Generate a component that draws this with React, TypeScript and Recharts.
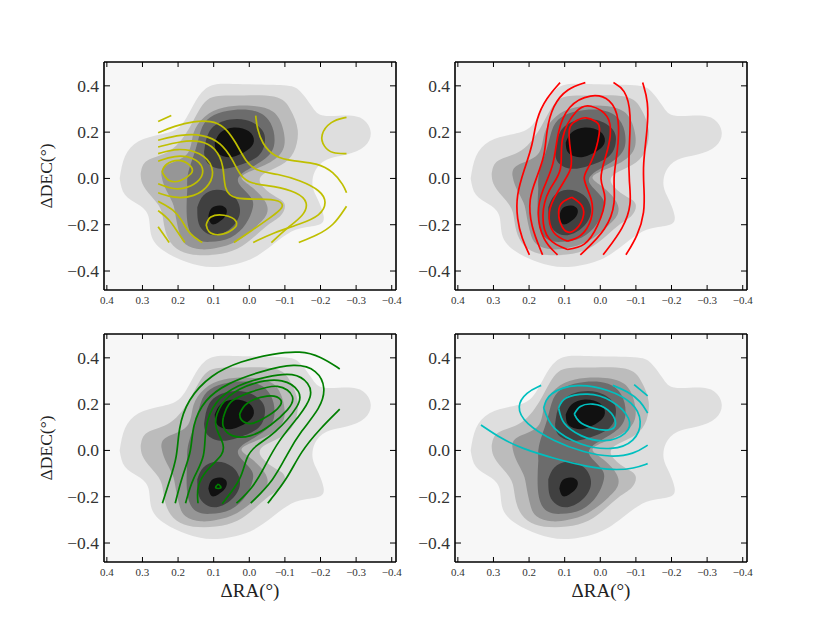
import { ScatterChart, Scatter, XAxis, YAxis, CartesianGrid } from 'recharts';

type Pt = number[];

// grey density contours, shared by all four panels (dRA, dDEC)
const densityOuter: Pt[] = [[.364,0],[.349,.096],[.311,.161],[.25,.19],[.199,.219],[.166,.291],[.134,.371],[.092,.407],[.017,.407],[-.095,.403],[-.142,.378],[-.175,.313],[-.207,.272],[-.273,.272],[-.32,.255],[-.341,.2],[-.324,.139],[-.273,.103],[-.217,.081],[-.184,.03],[-.178,-.035],[-.193,-.093],[-.209,-.165],[-.193,-.201],[-.142,-.216],[-.095,-.252],[-.039,-.317],[.017,-.361],[.101,-.383],[.176,-.361],[.236,-.317],[.274,-.252],[.283,-.165],[.311,-.114],[.349,-.071]];
const density2: Pt[] = [[.305,.02],[.286,.078],[.221,.122],[.164,.23],[.118,.339],[.043,.358],[-.069,.354],[-.116,.296],[-.136,.209],[-.125,.114],[-.088,.057],[-.041,.02],[-.032,-.023],[-.069,-.074],[-.099,-.11],[-.088,-.161],[-.05,-.204],[.006,-.277],[.062,-.32],[.127,-.332],[.183,-.32],[.221,-.277],[.239,-.204],[.249,-.132],[.277,-.074],[.3,-.023]];
const density3: Pt[] = [[.247,.016],[.232,.057],[.176,.103],[.157,.194],[.125,.267],[.071,.306],[-.004,.314],[-.067,.288],[-.095,.213],[-.095,.126],[-.052,.064],[.006,.025],[.02,-.004],[-.013,-.045],[-.046,-.103],[-.049,-.154],[-.022,-.204],[.034,-.27],[.09,-.299],[.136,-.306],[.179,-.284],[.197,-.233],[.207,-.161],[.216,-.103],[.237,-.038]];
const density4: Pt[] = [[.174,-.045],[.171,.028],[.15,.129],[.132,.223],[.099,.274],[.043,.296],[-.022,.288],[-.06,.238],[-.071,.165],[-.055,.1],[-.008,.049],[.024,.016],[.029,-.023],[-.004,-.081],[-.009,-.132],[.01,-.197],[.052,-.255],[.108,-.274],[.15,-.262],[.172,-.204],[.176,-.117]];
const density5Top: Pt[] = [[.127,.114],[.113,.201],[.071,.248],[.01,.252],[-.036,.209],[-.043,.151],[-.022,.093],[.034,.054],[.082,.042],[.118,.068]];
const density5Low: Pt[] = [[.146,-.125],[.129,-.074],[.092,-.049],[.048,-.071],[.026,-.135],[.045,-.204],[.092,-.245],[.129,-.226],[.144,-.183]];
const density6Top: Pt[] = [[.097,.155],[.08,.199],[.043,.22],[.001,.204],[-.013,.161],[.006,.122],[.048,.093],[.08,.1],[.094,.122]];
const density6Low: Pt[] = [[.115,-.165],[.106,-.129],[.082,-.117],[.064,-.133],[.068,-.165],[.087,-.19],[.106,-.197]];

const densityLayers: [Pt[], string][] = [
  [densityOuter, '#dedede'], [density2, '#bcbcbc'], [density3, '#969696'], [density4, '#6c6c6c'],
  [density5Top, '#404040'], [density5Low, '#404040'], [density6Top, '#111111'], [density6Low, '#111111'],
];

// yellow
const yellowOpen: Pt[][] = [
  [[.256,.246],[.219,.272]],
  [[-.018,.271],[-.022,.216],[-.036,.151],[-.069,.093],[-.125,.074],[-.191,.067],[-.237,.028],[-.265,-.03],[-.273,-.062]],
  [[.256,.197],[.211,.226],[.155,.248],[.108,.249],[.071,.228],[.038,.158],[.01,.071],[-.022,.03],[-.079,.02],[-.144,-.009],[-.2,-.052],[-.219,-.103],[-.2,-.161],[-.144,-.197],[-.069,-.233],[-.011,-.277]],
  [[.256,.165],[.193,.19],[.127,.19],[.08,.155],[.048,.086],[.024,.006],[-.004,-.023],[-.069,-.033],[-.135,-.059],[-.167,-.103],[-.153,-.161],[-.107,-.212],[-.062,-.277]],
  [[.256,.136],[.193,.161],[.136,.165],[.094,.132],[.071,.057],[.071,-.052],[.043,-.091],[-.032,-.088],[-.088,-.093],[-.099,-.125],[-.06,-.168],[-.013,-.219],[.043,-.277]],
  [[.256,.107],[.202,.132],[.136,.114],[.097,.049],[.108,-.03],[.155,-.081],[.211,-.086],[.256,-.062]],
  [[.256,.074],[.211,.1],[.155,.093],[.125,.045],[.136,-.009],[.174,-.042],[.211,-.049],[.256,-.023]],
  [[.256,-.099],[.211,-.135],[.188,-.183],[.169,-.241],[.132,-.277]],
  [[.256,-.139],[.225,-.175],[.201,-.233],[.181,-.277]],
  [[.256,-.209],[.225,-.277]],
  [[-.273,.264],[-.228,.249],[-.198,.187],[-.209,.136],[-.233,.107],[-.273,.107]],
  [[-.139,-.277],[-.191,-.245],[-.237,-.204],[-.273,-.12]],
];
const yellowClosed: Pt[][] = [
  [[.245,.028],[.232,.061],[.193,.077],[.163,.049],[.164,.02],[.193,-.009],[.225,-.009]],
  [[.121,-.201],[.108,-.167],[.071,-.159],[.037,-.186],[.048,-.222],[.085,-.243],[.113,-.23]],
];

// red
const redOpen: Pt[][] = [
  [[.113,.414],[.152,.346],[.18,.259],[.19,.143],[.213,.042],[.236,-.074],[.234,-.175],[.22,-.262],[.199,-.33]],
  [[.042,.414],[.092,.39],[.134,.317],[.152,.201],[.155,.1],[.18,-.001],[.201,-.088],[.196,-.204],[.162,-.33]],
  [[.12,-.33],[.162,-.27],[.18,-.146],[.162,-.045],[.129,.057],[.121,.201],[.092,.317],[.026,.368],[-.03,.346],[-.055,.259],[-.049,.114],[-.035,-.001],[-.044,-.103],[-.02,-.219],[.056,-.33]],
  [[-.037,.414],[-.069,.387],[-.088,.288],[-.079,.1],[-.081,-.016],[-.088,-.11],[-.067,-.212],[-.008,-.33]],
  [[-.119,.414],[-.135,.332],[-.133,.216],[-.119,.057],[-.123,-.045],[-.125,-.146],[-.105,-.248],[-.072,-.33]],
];
const redClosed: Pt[][] = [
  [[.092,-.307],[.143,-.262],[.161,-.161],[.143,-.052],[.112,.042],[.106,.172],[.068,.288],[.026,.312],[-.019,.267],[-.028,.187],[-.016,.1],[-.002,-.001],[-.013,-.088],[.008,-.204],[.045,-.284]],
  [[.092,-.271],[.131,-.233],[.143,-.146],[.12,-.059],[.087,.028],[.082,.1],[.087,.209],[.064,.252],[.04,.262],[.012,.245],[.003,.194],[.026,.071],[.045,-.001],[.026,-.088],[.026,-.175],[.054,-.245]],
  [[.08,-.081],[.052,-.117],[.05,-.175],[.078,-.229],[.106,-.212],[.117,-.146],[.106,-.103]],
];

// green
const greenOpen: Pt[][] = [
  [[.244,-.228],[.225,-.136],[.202,-.028],[.199,.096],[.174,.219],[.108,.328],[.024,.386],[-.069,.419],[-.144,.43],[-.2,.407],[-.254,.352]],
  [[.208,-.228],[.188,-.107],[.162,-.006],[.16,.11],[.127,.219],[.062,.291],[-.032,.342],[-.13,.378],[-.191,.349],[-.216,.27],[-.2,.183],[-.144,.081],[-.107,-.013],[-.069,-.129],[-.004,-.228]],
  [[.179,-.228],[.16,-.122],[.122,-.028],[.127,.096],[.099,.212],[.034,.284],[-.05,.32],[-.125,.338],[-.17,.291],[-.177,.233],[-.144,.154],[-.079,.038],[-.041,-.078],[-.008,-.165],[.036,-.228]],
  [[.144,-.228],[.148,-.151],[.118,-.078],[.071,-.017],[.071,.03],[.096,.096],[.096,.154],[.062,.241],[-.013,.296],[-.097,.313],[-.146,.255],[-.144,.197],[-.069,.067],[-.018,.023],[.01,-.028],[.02,-.122],[.076,-.23]],
  [[-.052,-.228],[-.107,-.122],[-.144,-.006],[-.2,.096],[-.254,.178]],
];
const greenClosed: Pt[][] = [
  [[.073,.142],[.052,.209],[-.004,.252],[-.079,.277],[-.121,.233],[-.107,.175],[-.06,.11],[-.004,.064],[.048,.064],[.073,.103]],
  [[.027,.157],[.006,.203],[-.05,.235],[-.088,.219],[-.079,.18],[-.041,.139],[-.004,.116],[.022,.132]],
  [[.087,-.145],[.08,-.162],[.094,-.162]],
];

// cyan
const cyanOpen: Pt[][] = [
  [[.335,.11],[.279,.052],[.222,.009],[.129,-.035],[.036,-.071],[-.039,-.086],[-.095,-.078],[-.133,-.057]],
  [[.166,.281],[.208,.252],[.236,.19],[.213,.117],[.129,.038],[.045,-.009],[-.03,-.03],[-.095,-.016],[-.133,.023]],
  [[-.035,.281],[-.077,.255],[-.114,.212],[-.133,.161]],
  [[-.095,.284],[-.133,.236]],
];
const cyanClosed: Pt[][] = [
  [[.159,.183],[.136,.245],[.064,.28],[-.021,.259],[-.086,.204],[-.112,.125],[-.091,.045],[-.03,.009],[.054,.028],[.129,.096]],
  [[.117,.183],[.096,.226],[.036,.243],[-.03,.214],[-.079,.139],[-.069,.074],[-.011,.042],[.054,.064],[.101,.117]],
  [[.073,.157],[.056,.19],[.021,.2],[-.021,.175],[-.043,.117],[-.021,.088],[.026,.099],[.059,.125]],
];

const xTicks = [0.4, 0.3, 0.2, 0.1, 0, -0.1, -0.2, -0.3, -0.4];
const yTicks = [0.4, 0.2, 0, -0.2, -0.4];

const xDomain = [-0.412, 0.408];
const yDomain = [-0.482, 0.503];

const fmt = (v: number) => (v < 0 ? '\u2212' + Math.abs(v).toFixed(1) : v.toFixed(1));
const toXY = (pts: Pt[]) => pts.map(([x, y]) => ({ x, y }));
const toLoop = (pts: Pt[]) => toXY([...pts, pts[0]]);
const mathFont = '"Liberation Serif", serif';
const hideDot = () => <g />;

const BottomTick = ({ x, y, payload }: any) => (
  <g>
    <line x1={x} x2={x} y1={y} y2={y - 5} stroke="#000" />
    <text x={x} y={y + 14} textAnchor="middle" fontSize={11} fontFamily={mathFont} fill="#333">{fmt(payload.value)}</text>
  </g>
);
const LeftTick = ({ x, y, payload }: any) => (
  <g>
    <line x1={x} x2={x + 6} y1={y} y2={y} stroke="#000" />
    <text x={x - 5} y={y + 6} textAnchor="end" fontSize={17.5} fontFamily={mathFont} fill="#333">{fmt(payload.value)}</text>
  </g>
);
const TopTick = ({ x, y }: any) => <line x1={x} x2={x} y1={y} y2={y + 5} stroke="#000" />;
const RightTick = ({ x, y }: any) => <line x1={x} x2={x - 6} y1={y} y2={y} stroke="#000" />;

function panel(
  left: number, top: number, color: string, open: Pt[][], closed: Pt[][],
  showXLabel: boolean, showYLabel: boolean,
) {
  const xProps = { type: 'number' as const, dataKey: 'x', domain: xDomain, ticks: xTicks, reversed: true, allowDataOverflow: true, interval: 0 as const, stroke: '#000', tickLine: false, tickSize: 0, tickMargin: 0, axisLine: { strokeWidth: 1.6 } };
  const yProps = { type: 'number' as const, dataKey: 'y', domain: yDomain, ticks: yTicks, allowDataOverflow: true, interval: 0 as const, stroke: '#000', tickLine: false, tickSize: 0, tickMargin: 0, axisLine: { strokeWidth: 1.6 } };
  return (
    <ScatterChart
      width={292 + 70 + 8}
      height={228 + 8 + 50}
      margin={{ top: 7, right: 7, left: 0, bottom: 0 }}
      style={{ position: 'absolute', left: left - 70, top: top - 8 }}
    >
      <CartesianGrid horizontal={false} vertical={false} fill="#f7f7f7" xAxisId="b" yAxisId="l" />
      <XAxis
        {...xProps}
        xAxisId="b"
        orientation="bottom"
        height={50}
        tick={BottomTick}
        label={showXLabel ? { value: '\u0394RA(\u00B0)', position: 'insideBottom', offset: 15, fontSize: 19, fontFamily: mathFont, fill: '#222' } : undefined}
      />
      <XAxis {...xProps} xAxisId="t" orientation="top" height={1} tick={TopTick} />
      <YAxis
        {...yProps}
        yAxisId="l"
        orientation="left"
        width={70}
        tick={LeftTick}
        label={showYLabel ? { value: '\u0394DEC(\u00B0)', angle: -90, position: 'insideLeft', textAnchor: 'middle', offset: 12, fontSize: 17.5, fontFamily: mathFont, fill: '#222' } : undefined}
      />
      <YAxis {...yProps} yAxisId="r" orientation="right" width={1} tick={RightTick} />
      <Scatter xAxisId="t" yAxisId="r" data={toXY([[0, 0]])} fill="none" shape={hideDot} isAnimationActive={false} />
      {densityLayers.map(([pts, fill], i) => (
        <Scatter
          key={'d' + i}
          xAxisId="b"
          yAxisId="l"
          data={toLoop(pts)}
          fill="none"
          line={{ fill, stroke: 'none' }}
          lineJointType="natural"
          shape={hideDot}
          isAnimationActive={false}
        />
      ))}
      {closed.map((pts, i) => (
        <Scatter
          key={'c' + i}
          xAxisId="b"
          yAxisId="l"
          data={toLoop(pts)}
          fill="none"
          line={{ fill: 'none', stroke: color, strokeWidth: 1.7 }}
          lineJointType="natural"
          shape={hideDot}
          isAnimationActive={false}
        />
      ))}
      {open.map((pts, i) => (
        <Scatter
          key={'o' + i}
          xAxisId="b"
          yAxisId="l"
          data={toXY(pts)}
          fill="none"
          line={{ fill: 'none', stroke: color, strokeWidth: 1.7 }}
          lineJointType="basis"
          shape={hideDot}
          isAnimationActive={false}
        />
      ))}
    </ScatterChart>
  );
}

export default function App() {
  return (
    <div style={{ position: 'absolute', left: 0, top: 0, width: 830, height: 623, background: '#fff' }}>
      {panel(103.5, 62, '#bfbf00', yellowOpen, yellowClosed, false, true)}
      {panel(454.5, 62, '#ff0000', redOpen, redClosed, false, false)}
      {panel(103.5, 334, '#007f00', greenOpen, greenClosed, true, true)}
      {panel(454.5, 334, '#00bfbf', cyanOpen, cyanClosed, true, false)}
    </div>
  );
}
